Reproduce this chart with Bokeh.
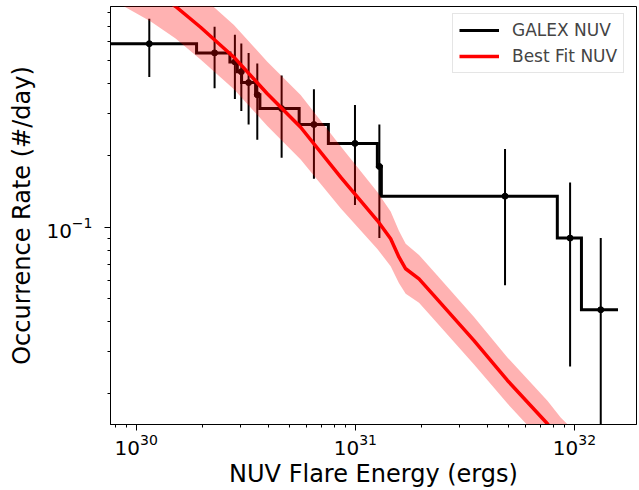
import numpy as np
from bokeh.plotting import figure
from bokeh.models import (ColumnDataSource, FixedTicker, LogTickFormatter,
                          Legend, LegendItem, Range1d)
from bokeh.embed import file_html
from bokeh.resources import INLINE

# ---- GALEX NUV cumulative occurrence rate (step outline) ----
step_energy = [5.0e29, 1.885e30, 2.676e30, 2.893e30, 3.026e30, 3.505e30, 3.667e30,
               5.54e30, 7.53e30, 1.26e31, 1.314e31, 8.35e31, 1.076e32, 1.58e32]
step_rate = [0.59, 0.54, 0.495, 0.45, 0.405, 0.36, 0.315,
             0.27, 0.225, 0.18, 0.135, 0.09, 0.045, 0.045]

# ---- GALEX NUV points with error bars ----
point_energy = [1.147e30, 2.278e30, 2.820e30, 3.017e30, 3.257e30, 3.568e30, 4.608e30,
                6.47e30, 9.96e30, 1.287e31, 4.82e31, 9.55e31, 1.318e32]
point_rate = [0.59, 0.54, 0.495, 0.45, 0.405, 0.36, 0.315,
              0.27, 0.225, 0.18, 0.135, 0.09, 0.045]
point_err = [0.162, 0.156, 0.149, 0.142, 0.135, 0.127, 0.119,
             0.110, 0.101, 0.090, 0.078, 0.064, 0.045]

# ---- Best fit NUV and its uncertainty band ----
fit_energy = [7.0e29, 1.16e30, 1.512e30, 1.966e30, 2.791e30, 3.965e30, 5.627e30, 8.567e30,
              1.260e31, 1.449e31, 1.582e31, 1.697e31, 1.952e31, 2.285e31, 3.480e31,
              4.944e31, 7.527e31, 8.65e31, 1.10e32]
fit_rate = [1.30, 1.00, 0.846, 0.692, 0.518, 0.3635, 0.263, 0.1622,
            0.1067, 0.0894, 0.0748, 0.0669, 0.0607, 0.0516, 0.0334,
            0.0227, 0.01493, 0.0127, 0.01016]
fit_hi = [1.774, 1.365, 1.154, 0.944, 0.707, 0.496, 0.359, 0.2188,
          0.1406, 0.1165, 0.0963, 0.0852, 0.0764, 0.0650, 0.0420,
          0.02838, 0.01866, 0.01588, 0.0127]
fit_lo = [0.953, 0.733, 0.620, 0.507, 0.380, 0.2664, 0.1927, 0.1202,
          0.0810, 0.0686, 0.0581, 0.0525, 0.0482, 0.0410, 0.02653,
          0.01816, 0.01194, 0.01016, 0.00813]

x_major = [1e30, 1e31, 1e32]
x_minor = [m * 10.0 ** e for e in (29, 30, 31) for m in range(2, 10)]
y_major = [1e-1]
y_minor = [m * 10.0 ** e for e in (-2, -1) for m in range(2, 10)]

FONT = "DejaVu Sans"

p = figure(width=639, height=490, x_axis_type="log", y_axis_type="log",
           x_range=Range1d(7.630e29, 1.919e32), y_range=Range1d(0.01483, 0.8458),
           output_backend="svg", toolbar_location=None,
           min_border_left=110, min_border_right=3, min_border_top=6, min_border_bottom=66)
p.background_fill_color = "white"
p.border_fill_color = "white"
p.outline_line_color = "black"
p.outline_line_width = 1
p.xgrid.visible = False
p.ygrid.visible = False

step_src = ColumnDataSource(dict(x=step_energy, y=step_rate))
step_r = p.step("x", "y", source=step_src, mode="after", line_color="black",
                line_width=3, line_join="miter")

lower = [r - e if r - e > 0 else 1e-6 for r, e in zip(point_rate, point_err)]
upper = [r + e for r, e in zip(point_rate, point_err)]
err_src = ColumnDataSource(dict(x=point_energy, y=point_rate, lo=lower, hi=upper))
p.segment(x0="x", y0="lo", x1="x", y1="hi", source=err_src, line_color="black", line_width=2)
p.scatter("x", "y", source=err_src, size=6, color="black")

band_src = ColumnDataSource(dict(x=fit_energy, lo=fit_lo, hi=fit_hi))
p.varea(x="x", y1="lo", y2="hi", source=band_src, fill_color="red", fill_alpha=0.3)

fit_src = ColumnDataSource(dict(x=fit_energy, y=fit_rate))
fit_r = p.line("x", "y", source=fit_src, line_color="red", line_width=3.5)

for ax, maj, mnr in ((p.xaxis[0], x_major, x_minor), (p.yaxis[0], y_major, y_minor)):
    ax.ticker = FixedTicker(ticks=maj, minor_ticks=mnr)
    ax.formatter = LogTickFormatter()
    ax.major_label_text_font = FONT
    ax.major_label_text_font_size = "20px"
    ax.major_label_text_color = "black"
    ax.axis_label_text_font = FONT
    ax.axis_label_text_font_size = "24px"
    ax.axis_label_text_font_style = "normal"
    ax.axis_label_text_color = "black"
    ax.axis_line_color = "black"
    ax.major_tick_line_color = "black"
    ax.minor_tick_line_color = "black"
    ax.major_tick_out = 6
    ax.major_tick_in = 0
    ax.minor_tick_out = 3
    ax.minor_tick_in = 0

p.xaxis.axis_label = "NUV Flare Energy (ergs)"
p.yaxis.axis_label = "Occurrence Rate (#/day)"
p.xaxis.major_label_standoff = 3
p.xaxis.axis_label_standoff = 2
p.yaxis.major_label_standoff = 12
p.yaxis.axis_label_standoff = 7

legend = Legend(items=[LegendItem(label="GALEX NUV", renderers=[step_r]),
                       LegendItem(label="Best Fit NUV", renderers=[fit_r])],
                location=(342, 351), margin=0, padding=6, spacing=6,
                glyph_width=40, glyph_height=20, label_height=20, label_standoff=13,
                label_text_font=FONT, label_text_font_size="17px",
                border_line_color="#cccccc", border_line_width=1,
                background_fill_color="white", background_fill_alpha=0.8)
p.add_layout(legend)

open("out.html", "w").write(file_html(p, INLINE))
